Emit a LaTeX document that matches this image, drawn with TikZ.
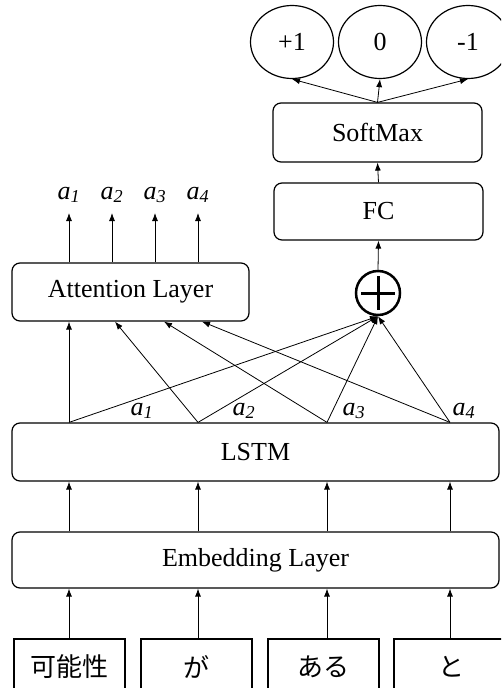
\documentclass[tikz,border=0pt]{standalone}
\usepackage{fontspec}
\setmainfont{Liberation Serif}
\newfontfamily\jpfont{Noto Sans CJK JP}
\usetikzlibrary{arrows.meta,shapes.geometric}
\begin{document}
\begin{tikzpicture}[x=1pt,y=-1pt,
  font=\fontsize{26}{30}\selectfont,
  layer/.style={draw,rounded corners=8pt,line width=1.2pt,inner sep=0pt},
  wordbox/.style={draw,line width=1.2pt,minimum width=111pt,minimum height=81pt,inner sep=0pt},
  outc/.style={draw,ellipse,line width=1.2pt,minimum width=83pt,minimum height=73pt,inner sep=0pt},
  arr/.style={-{Latex[length=8pt,width=6pt]},line width=0.8pt},
  lab/.style={inner sep=0pt,font=\fontsize{26}{30}\selectfont\itshape},
  jp/.style={inner sep=0pt,font=\fontsize{26}{30}\selectfont\jpfont}]
\useasboundingbox (0,0) rectangle (501,688);
\clip (0,0) rectangle (501,688);

% outputs
\node[outc] (o1) at (292,42) {+1};
\node[outc] (o2) at (380,42) {0};
\node[outc] (o3) at (468,42) {-1};

% layers
\node[layer,minimum width=209pt,minimum height=59pt] (sm) at (377.5,132.5) {SoftMax};
\node[layer,minimum width=209pt,minimum height=57pt] (fc) at (378.5,211.5) {FC};
\node[circle,draw,line width=2.5pt,minimum size=44pt,inner sep=0pt] (sum) at (378,293) {};
\draw[line width=3pt] ([xshift=-17pt]sum.center) -- ([xshift=17pt]sum.center);
\draw[line width=3pt] ([yshift=-17pt]sum.center) -- ([yshift=17pt]sum.center);
\node[layer,minimum width=237pt,minimum height=58pt] (att) at (130.5,292) {Attention Layer};
\node[layer,minimum width=487pt,minimum height=58pt] (lstm) at (255.5,452) {LSTM};
\node[layer,minimum width=487pt,minimum height=56pt] (emb) at (255.5,560) {Embedding Layer};

% words
\node[wordbox] (w1) at (69.5,679.5) {};
\node[wordbox] (w2) at (196.5,679.5) {};
\node[wordbox] (w3) at (323.5,679.5) {};
\node[wordbox] (w4) at (449.5,679.5) {};
\node[jp] (t1) at (69.5,667) {可能性};
\node[jp] (t2) at (196.5,667) {が};
\node[jp] (t3) at (323.5,667) {ある};
\node[jp] (t4) at (451,667) {と};

% columns
\coordinate (c1) at (69,0);
\coordinate (c2) at (198,0);
\coordinate (c3) at (327,0);
\coordinate (c4) at (450,0);
\coordinate (ab1) at (69,0);
\coordinate (ab2) at (115,0);
\coordinate (ab3) at (164,0);
\coordinate (ab4) at (202,0);
\coordinate (ao1) at (69,0);
\coordinate (ao2) at (112,0);
\coordinate (ao3) at (155,0);
\coordinate (ao4) at (198,0);
\coordinate (atop) at (0,213);

\foreach \i in {1,...,4} {
  \draw[arr] (c\i |- w\i.north) -- (c\i |- emb.south);
  \draw[arr] (c\i |- emb.north) -- (c\i |- lstm.south);
  \draw[arr] (c\i |- lstm.north) -- (sum.south);
  \draw[arr] (c\i |- lstm.north) -- (ab\i |- att.south);
  \draw[arr] (ao\i |- att.north) -- (ao\i |- atop);
  \node[lab] (la\i) at (ao\i |- 0,195) {a\textsubscript{\i}};
}

% LSTM labels
\node[lab] (lb1) at (142,411) {a\textsubscript{1}};
\node[lab] (lb2) at (244,411) {a\textsubscript{2}};
\node[lab] (lb3) at (354,411) {a\textsubscript{3}};
\node[lab] (lb4) at (464,411) {a\textsubscript{4}};

\draw[arr] (sum.north) -- (fc.south);
\draw[arr] (fc.north) -- (sm.south);
\draw[arr] (sm.north) -- (o1.south);
\draw[arr] (sm.north) -- (o2.south);
\draw[arr] (sm.north) -- (o3.south);
\end{tikzpicture}
\end{document}
